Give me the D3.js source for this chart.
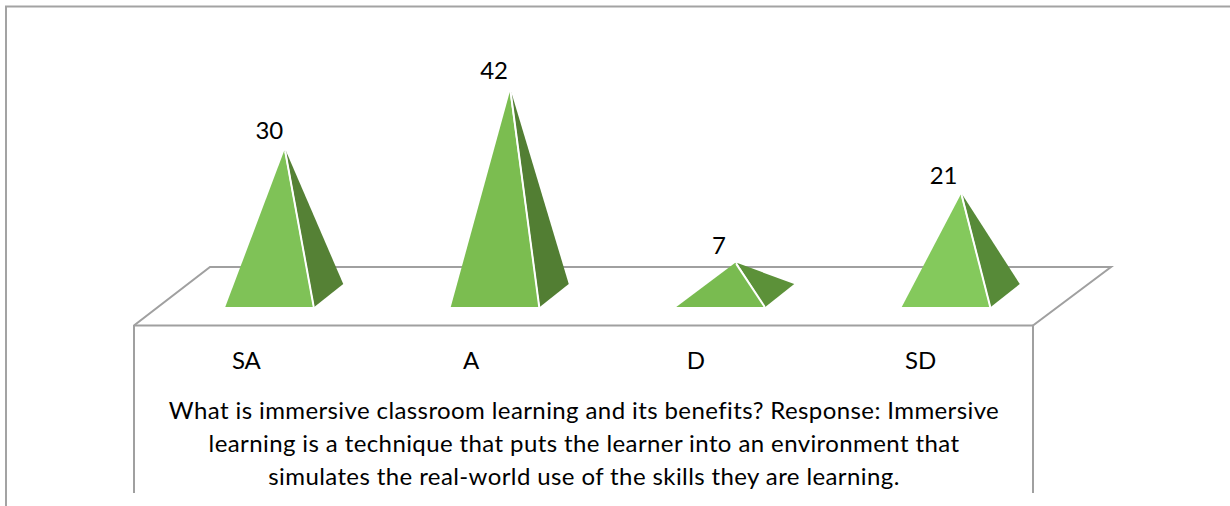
<!DOCTYPE html>
<html>
<head>
<meta charset="utf-8">
<title>Immersive classroom learning</title>
<script src="https://d3js.org/d3.v7.min.js"></script>
<style>
html, body { margin: 0; padding: 0; background: #fff; }
text { font-family: Lato, "Open Sans", sans-serif; fill: #000; }
</style>
</head>
<body>
<div id="canvas"></div>
<script>
	var categories = ["SA", "A", "D", "SD"];
	var values = [30, 42, 7, 21];
	var titleLines = [
		"What is immersive classroom learning and its benefits? Response: Immersive",
		"learning is a technique that puts the learner into an environment that",
		"simulates the real-world use of the skills they are learning."
	];

	var width = 1230, height = 506;
	var svg = d3.select("#canvas").append("svg")
		.attr("width", width)
		.attr("height", height)
		.style("display", "block");

	// front edge of the floor
	var floorLeft = 134, floorRight = 1033, floorFront = 325.5, floorBack = 267;
	var baseFront = 307, baseBack = 284;
	var depthX = 30;

	var x = d3.scaleBand().domain(categories).range([floorLeft, floorRight]);
	// pyramids step a little wider than the axis labels
	var xBar = d3.scaleBand().domain(categories).range([135, 1037]);
	// zero sits in the middle of the pyramid base
	var y = d3.scaleLinear().domain([0, 42]).range([297, 92]);

	var faceColor = d3.scaleOrdinal().domain(categories).range(["#7fc257", "#7bbd50", "#79bb50", "#84c95c"]);
	var sideColor = d3.scaleOrdinal().domain(categories).range(["#558135", "#527e33", "#5c9139", "#578a38"]);

	// outer frame
	svg.append("path")
		.attr("d", "M6,506V6.5H1230")
		.attr("fill", "none")
		.attr("stroke", "#a3a3a3")
		.attr("stroke-width", 2);

	// floor and the box under it
	svg.append("path")
		.attr("d", `M${floorLeft},493V${floorFront}L210,${floorBack}H1111L${floorRight},${floorFront}V493`)
		.attr("fill", "none")
		.attr("stroke", "#a0a0a0")
		.attr("stroke-width", 2);
	svg.append("path")
		.attr("d", `M${floorLeft},${floorFront}H${floorRight}`)
		.attr("stroke", "#a0a0a0")
		.attr("stroke-width", 2);

	var barWidth = 88;
	var frontCx = d => xBar(d.cat) + xBar.bandwidth() / 2 + 21.5;
	var labelCx = d => x(d.cat) + x.bandwidth() / 2 + 23;

	var data = categories.map((cat, i) => ({cat: cat, value: values[i]}));
	var line = d3.line();

	var bars = svg.append("g").selectAll("g").data(data).join("g");

	// side face
	bars.append("path")
		.attr("fill", d => sideColor(d.cat))
		.attr("d", d => {
			var cx = frontCx(d);
			return line([[cx + 16.5, y(d.value)], [cx + barWidth / 2 + 1, baseFront], [cx + barWidth / 2 + depthX, baseBack]]) + "Z";
		});

	// front face
	bars.append("path")
		.attr("fill", d => faceColor(d.cat))
		.attr("d", d => {
			var cx = frontCx(d);
			return line([[cx + 15, y(d.value)], [cx - barWidth / 2, baseFront], [cx + barWidth / 2, baseFront]]) + "Z";
		});

	// white seam between the faces
	bars.append("path")
		.attr("fill", "none")
		.attr("stroke", "#fff")
		.attr("stroke-width", 2)
		.attr("d", d => {
			var cx = frontCx(d);
			return line([[cx + 16, y(d.value) + 1], [cx + barWidth / 2 + 0.5, baseFront]]);
		});

	// value labels
	svg.append("g").selectAll("text").data(data).join("text")
		.attr("x", d => labelCx(d))
		.attr("y", d => y(d.value) - 8 - d.value * 0.12)
		.attr("text-anchor", "middle")
		.attr("font-size", 24)
		.text(d => d.value);

	// category axis
	var axis = svg.append("g")
		.attr("transform", `translate(0,${floorFront + 26})`)
		.call(d3.axisBottom(x).tickSize(0).tickPadding(0));
	axis.select(".domain").remove();
	axis.selectAll("text")
		.attr("font-size", 24)
		.style("font-family", "Lato, 'Open Sans', sans-serif");
	axis.attr("font-size", null).attr("font-family", null);

	// title under the axis
	svg.append("g").selectAll("text").data(titleLines).join("text")
		.attr("x", (floorLeft + floorRight) / 2 + 0.5)
		.attr("y", (d, i) => 419 + i * 33)
		.attr("text-anchor", "middle")
		.attr("font-size", 24)
		.attr("letter-spacing", 0.4)
		.text(d => d);
</script>
</body>
</html>
